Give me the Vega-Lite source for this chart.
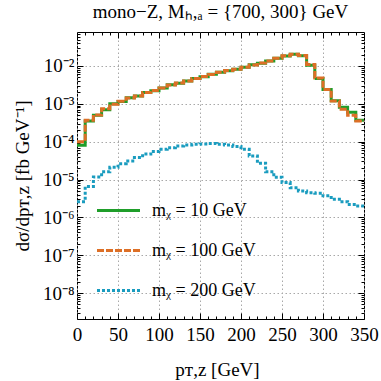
{
  "$schema": "https://vega.github.io/schema/vega-lite/v6.json",
  "width": 287,
  "height": 287,
  "autosize": {"type": "none"},
  "padding": {"left": 77, "top": 32, "right": 17, "bottom": 62},
  "background": "white",
  "config": {"view": {"stroke": "black", "strokeWidth": 1}, "font": "Liberation Serif"},
  "title": {"text": "mono−Z,  Mₕ,ₐ = {700, 300} GeV", "font": "Liberation Serif", "fontSize": 19, "fontWeight": "normal", "anchor": "middle", "offset": 3, "color": "black"},
  "data": {"values": [
    {"m": "mᵪ = 10 GeV", "x": 0, "y": 8e-5},
    {"m": "mᵪ = 10 GeV", "x": 10, "y": 3.5e-4},
    {"m": "mᵪ = 10 GeV", "x": 20, "y": 5e-4},
    {"m": "mᵪ = 10 GeV", "x": 30, "y": 7e-4},
    {"m": "mᵪ = 10 GeV", "x": 40, "y": 1e-3},
    {"m": "mᵪ = 10 GeV", "x": 50, "y": 1.15e-3},
    {"m": "mᵪ = 10 GeV", "x": 60, "y": 1.45e-3},
    {"m": "mᵪ = 10 GeV", "x": 70, "y": 1.6e-3},
    {"m": "mᵪ = 10 GeV", "x": 80, "y": 2e-3},
    {"m": "mᵪ = 10 GeV", "x": 90, "y": 2.2e-3},
    {"m": "mᵪ = 10 GeV", "x": 100, "y": 2.6e-3},
    {"m": "mᵪ = 10 GeV", "x": 110, "y": 3.2e-3},
    {"m": "mᵪ = 10 GeV", "x": 120, "y": 3.5e-3},
    {"m": "mᵪ = 10 GeV", "x": 130, "y": 4e-3},
    {"m": "mᵪ = 10 GeV", "x": 140, "y": 4.7e-3},
    {"m": "mᵪ = 10 GeV", "x": 150, "y": 5.2e-3},
    {"m": "mᵪ = 10 GeV", "x": 160, "y": 6e-3},
    {"m": "mᵪ = 10 GeV", "x": 170, "y": 6.8e-3},
    {"m": "mᵪ = 10 GeV", "x": 180, "y": 7.5e-3},
    {"m": "mᵪ = 10 GeV", "x": 190, "y": 8.2e-3},
    {"m": "mᵪ = 10 GeV", "x": 200, "y": 9.2e-3},
    {"m": "mᵪ = 10 GeV", "x": 210, "y": 1.07e-2},
    {"m": "mᵪ = 10 GeV", "x": 220, "y": 1.18e-2},
    {"m": "mᵪ = 10 GeV", "x": 230, "y": 1.35e-2},
    {"m": "mᵪ = 10 GeV", "x": 240, "y": 1.6e-2},
    {"m": "mᵪ = 10 GeV", "x": 250, "y": 1.84e-2},
    {"m": "mᵪ = 10 GeV", "x": 260, "y": 2.04e-2},
    {"m": "mᵪ = 10 GeV", "x": 270, "y": 1.87e-2},
    {"m": "mᵪ = 10 GeV", "x": 280, "y": 1.05e-2},
    {"m": "mᵪ = 10 GeV", "x": 290, "y": 4.7e-3},
    {"m": "mᵪ = 10 GeV", "x": 300, "y": 2.4e-3},
    {"m": "mᵪ = 10 GeV", "x": 310, "y": 1.2e-3},
    {"m": "mᵪ = 10 GeV", "x": 320, "y": 8.1e-4},
    {"m": "mᵪ = 10 GeV", "x": 330, "y": 6e-4},
    {"m": "mᵪ = 10 GeV", "x": 340, "y": 3.7e-4},
    {"m": "mᵪ = 10 GeV", "x": 350, "y": 3.7e-4},
    {"m": "mᵪ = 100 GeV", "x": 0, "y": 1e-4},
    {"m": "mᵪ = 100 GeV", "x": 10, "y": 3.7e-4},
    {"m": "mᵪ = 100 GeV", "x": 20, "y": 5.1e-4},
    {"m": "mᵪ = 100 GeV", "x": 30, "y": 7.4e-4},
    {"m": "mᵪ = 100 GeV", "x": 40, "y": 9.7e-4},
    {"m": "mᵪ = 100 GeV", "x": 50, "y": 1.17e-3},
    {"m": "mᵪ = 100 GeV", "x": 60, "y": 1.42e-3},
    {"m": "mᵪ = 100 GeV", "x": 70, "y": 1.62e-3},
    {"m": "mᵪ = 100 GeV", "x": 80, "y": 1.98e-3},
    {"m": "mᵪ = 100 GeV", "x": 90, "y": 2.25e-3},
    {"m": "mᵪ = 100 GeV", "x": 100, "y": 2.6e-3},
    {"m": "mᵪ = 100 GeV", "x": 110, "y": 3.15e-3},
    {"m": "mᵪ = 100 GeV", "x": 120, "y": 3.55e-3},
    {"m": "mᵪ = 100 GeV", "x": 130, "y": 4e-3},
    {"m": "mᵪ = 100 GeV", "x": 140, "y": 4.65e-3},
    {"m": "mᵪ = 100 GeV", "x": 150, "y": 5.25e-3},
    {"m": "mᵪ = 100 GeV", "x": 160, "y": 5.95e-3},
    {"m": "mᵪ = 100 GeV", "x": 170, "y": 6.8e-3},
    {"m": "mᵪ = 100 GeV", "x": 180, "y": 7.6e-3},
    {"m": "mᵪ = 100 GeV", "x": 190, "y": 8.2e-3},
    {"m": "mᵪ = 100 GeV", "x": 200, "y": 9.3e-3},
    {"m": "mᵪ = 100 GeV", "x": 210, "y": 1.06e-2},
    {"m": "mᵪ = 100 GeV", "x": 220, "y": 1.2e-2},
    {"m": "mᵪ = 100 GeV", "x": 230, "y": 1.35e-2},
    {"m": "mᵪ = 100 GeV", "x": 240, "y": 1.6e-2},
    {"m": "mᵪ = 100 GeV", "x": 250, "y": 1.86e-2},
    {"m": "mᵪ = 100 GeV", "x": 260, "y": 2.04e-2},
    {"m": "mᵪ = 100 GeV", "x": 270, "y": 1.9e-2},
    {"m": "mᵪ = 100 GeV", "x": 280, "y": 1.1e-2},
    {"m": "mᵪ = 100 GeV", "x": 290, "y": 4.8e-3},
    {"m": "mᵪ = 100 GeV", "x": 300, "y": 2.4e-3},
    {"m": "mᵪ = 100 GeV", "x": 310, "y": 1.18e-3},
    {"m": "mᵪ = 100 GeV", "x": 320, "y": 7.2e-4},
    {"m": "mᵪ = 100 GeV", "x": 330, "y": 5e-4},
    {"m": "mᵪ = 100 GeV", "x": 340, "y": 3.5e-4},
    {"m": "mᵪ = 100 GeV", "x": 350, "y": 3.5e-4},
    {"m": "mᵪ = 200 GeV", "x": 0, "y": 2.6e-6},
    {"m": "mᵪ = 200 GeV", "x": 10, "y": 6.5e-6},
    {"m": "mᵪ = 200 GeV", "x": 20, "y": 1.17e-5},
    {"m": "mᵪ = 200 GeV", "x": 30, "y": 1.6e-5},
    {"m": "mᵪ = 200 GeV", "x": 40, "y": 2.1e-5},
    {"m": "mᵪ = 200 GeV", "x": 50, "y": 2.6e-5},
    {"m": "mᵪ = 200 GeV", "x": 60, "y": 3.1e-5},
    {"m": "mᵪ = 200 GeV", "x": 70, "y": 3.8e-5},
    {"m": "mᵪ = 200 GeV", "x": 80, "y": 4.7e-5},
    {"m": "mᵪ = 200 GeV", "x": 90, "y": 5.5e-5},
    {"m": "mᵪ = 200 GeV", "x": 100, "y": 6.3e-5},
    {"m": "mᵪ = 200 GeV", "x": 110, "y": 6.9e-5},
    {"m": "mᵪ = 200 GeV", "x": 120, "y": 7.7e-5},
    {"m": "mᵪ = 200 GeV", "x": 130, "y": 8.2e-5},
    {"m": "mᵪ = 200 GeV", "x": 140, "y": 8.5e-5},
    {"m": "mᵪ = 200 GeV", "x": 150, "y": 8.7e-5},
    {"m": "mᵪ = 200 GeV", "x": 160, "y": 9e-5},
    {"m": "mᵪ = 200 GeV", "x": 170, "y": 8.5e-5},
    {"m": "mᵪ = 200 GeV", "x": 180, "y": 8.1e-5},
    {"m": "mᵪ = 200 GeV", "x": 190, "y": 7.4e-5},
    {"m": "mᵪ = 200 GeV", "x": 200, "y": 6.3e-5},
    {"m": "mᵪ = 200 GeV", "x": 210, "y": 4.2e-5},
    {"m": "mᵪ = 200 GeV", "x": 220, "y": 2.7e-5},
    {"m": "mᵪ = 200 GeV", "x": 230, "y": 1.6e-5},
    {"m": "mᵪ = 200 GeV", "x": 240, "y": 1.14e-5},
    {"m": "mᵪ = 200 GeV", "x": 250, "y": 8.3e-6},
    {"m": "mᵪ = 200 GeV", "x": 260, "y": 6.1e-6},
    {"m": "mᵪ = 200 GeV", "x": 270, "y": 5e-6},
    {"m": "mᵪ = 200 GeV", "x": 280, "y": 4.5e-6},
    {"m": "mᵪ = 200 GeV", "x": 290, "y": 4.3e-6},
    {"m": "mᵪ = 200 GeV", "x": 300, "y": 3.7e-6},
    {"m": "mᵪ = 200 GeV", "x": 310, "y": 3e-6},
    {"m": "mᵪ = 200 GeV", "x": 320, "y": 2.6e-6},
    {"m": "mᵪ = 200 GeV", "x": 330, "y": 2.2e-6},
    {"m": "mᵪ = 200 GeV", "x": 340, "y": 2e-6},
    {"m": "mᵪ = 200 GeV", "x": 350, "y": 2e-6}
  ]},
  "layer": [
    {
      "mark": {"type": "line", "interpolate": "step-after", "strokeWidth": 3},
      "encoding": {
        "x": {"field": "x", "type": "quantitative",
          "scale": {"domain": [0, 350], "nice": false, "zero": false},
          "axis": {"orient": "bottom", "values": [0,10,20,30,40,50,60,70,80,90,100,110,120,130,140,150,160,170,180,190,200,210,220,230,240,250,260,270,280,290,300,310,320,330,340,350],
            "labelExpr": "datum.value % 50 == 0 ? datum.label : ''",
            "tickSize": {"condition": {"test": "datum.value % 50 == 0", "value": -6}, "value": -3},
            "gridOpacity": {"condition": {"test": "datum.value % 50 == 0", "value": 1}, "value": 0},
            "grid": true, "gridColor": "#a8a8a8", "gridDash": [1.5, 2.5], "tickColor": "black", "domain": false,
            "labelFont": "Liberation Serif", "labelFontSize": 19, "labelColor": "black", "labelPadding": 12, "labelFlush": false, "labelOverlap": false,
            "title": "pᴛ,ᴢ   [GeV]", "titleFont": "Liberation Serif", "titleFontSize": 19, "titleFontWeight": "normal", "titleColor": "black",
            "titleX": 140, "titleY": 50, "titleBaseline": "middle", "titleAlign": "center"}},
        "y": {"field": "y", "type": "quantitative",
          "scale": {"type": "log", "domain": [2.06e-9, 0.079], "nice": false},
          "axis": {"orient": "left", "values": [3e-9,4e-9,5e-9,6e-9,7e-9,8e-9,9e-9,1e-8,2e-8,3e-8,4e-8,5e-8,6e-8,7e-8,8e-8,9e-8,1e-7,2e-7,3e-7,4e-7,5e-7,6e-7,7e-7,8e-7,9e-7,1e-6,2e-6,3e-6,4e-6,5e-6,6e-6,7e-6,8e-6,9e-6,1e-5,2e-5,3e-5,4e-5,5e-5,6e-5,7e-5,8e-5,9e-5,1e-4,2e-4,3e-4,4e-4,5e-4,6e-4,7e-4,8e-4,9e-4,1e-3,2e-3,3e-3,4e-3,5e-3,6e-3,7e-3,8e-3,9e-3,1e-2,2e-2,3e-2,4e-2,5e-2,6e-2,7e-2],
            "labelExpr": "abs(log(datum.value)/LN10 - round(log(datum.value)/LN10)) < 0.01 ? '10⁻' + ['0','¹','²','³','⁴','⁵','⁶','⁷','⁸','⁹'][-round(log(datum.value)/LN10)] : ''",
            "tickSize": {"condition": {"test": "abs(log(datum.value)/LN10 - round(log(datum.value)/LN10)) < 0.01", "value": -6}, "value": -3},
            "gridOpacity": {"condition": {"test": "abs(log(datum.value)/LN10 - round(log(datum.value)/LN10)) < 0.01", "value": 1}, "value": 0},
            "grid": true, "gridColor": "#a8a8a8", "gridDash": [1.5, 2.5], "tickColor": "black", "domain": false,
            "labelFont": "Liberation Serif", "labelFontSize": 19, "labelColor": "black", "labelPadding": 9, "labelFlush": false, "labelOverlap": false,
            "title": "dσ/dpᴛ,ᴢ   [fb GeV⁻¹]", "titleFont": "Liberation Serif", "titleFontSize": 19, "titleFontWeight": "normal", "titleColor": "black",
            "titleX": -55, "titleY": 143.5, "titleBaseline": "middle", "titleAlign": "center", "titleAngle": -90}},
        "color": {"field": "m", "type": "nominal",
          "scale": {"domain": ["mᵪ = 10 GeV", "mᵪ = 100 GeV", "mᵪ = 200 GeV"], "range": ["#1f9e2a", "#dd6f26", "#1a9cbf"]},
          "legend": {"title": null, "orient": "none", "legendX": 18, "legendY": 155, "symbolType": "stroke", "symbolSize": 1850, "symbolStrokeWidth": 3,
            "labelFont": "Liberation Serif", "labelFontSize": 18, "labelColor": "black", "labelOffset": 10, "rowPadding": 7, "padding": 0}},
        "strokeDash": {"field": "m", "type": "nominal",
          "scale": {"domain": ["mᵪ = 10 GeV", "mᵪ = 100 GeV", "mᵪ = 200 GeV"], "range": [[1, 0], [7, 2], [3, 2]]},
          "legend": {"title": null, "orient": "none", "legendX": 18, "legendY": 155, "symbolType": "stroke", "symbolSize": 1850, "symbolStrokeWidth": 3,
            "labelFont": "Liberation Serif", "labelFontSize": 18, "labelColor": "black", "labelOffset": 10, "rowPadding": 7, "padding": 0}}
      }
    },
    {
      "mark": {"type": "point", "opacity": 0},
      "encoding": {
        "x": {"field": "x", "type": "quantitative",
          "axis": {"orient": "top", "values": [0,10,20,30,40,50,60,70,80,90,100,110,120,130,140,150,160,170,180,190,200,210,220,230,240,250,260,270,280,290,300,310,320,330,340,350],
            "labels": false, "grid": false, "domain": false, "title": null, "tickColor": "black",
            "tickSize": {"condition": {"test": "datum.value % 50 == 0", "value": -6}, "value": -3}}},
        "y": {"field": "y", "type": "quantitative",
          "axis": {"orient": "right", "values": [3e-9,4e-9,5e-9,6e-9,7e-9,8e-9,9e-9,1e-8,2e-8,3e-8,4e-8,5e-8,6e-8,7e-8,8e-8,9e-8,1e-7,2e-7,3e-7,4e-7,5e-7,6e-7,7e-7,8e-7,9e-7,1e-6,2e-6,3e-6,4e-6,5e-6,6e-6,7e-6,8e-6,9e-6,1e-5,2e-5,3e-5,4e-5,5e-5,6e-5,7e-5,8e-5,9e-5,1e-4,2e-4,3e-4,4e-4,5e-4,6e-4,7e-4,8e-4,9e-4,1e-3,2e-3,3e-3,4e-3,5e-3,6e-3,7e-3,8e-3,9e-3,1e-2,2e-2,3e-2,4e-2,5e-2,6e-2,7e-2],
            "labels": false, "grid": false, "domain": false, "title": null, "tickColor": "black",
            "tickSize": {"condition": {"test": "abs(log(datum.value)/LN10 - round(log(datum.value)/LN10)) < 0.01", "value": -6}, "value": -3}}}
      }
    }
  ],
  "resolve": {"axis": {"x": "independent", "y": "independent"}}
}
